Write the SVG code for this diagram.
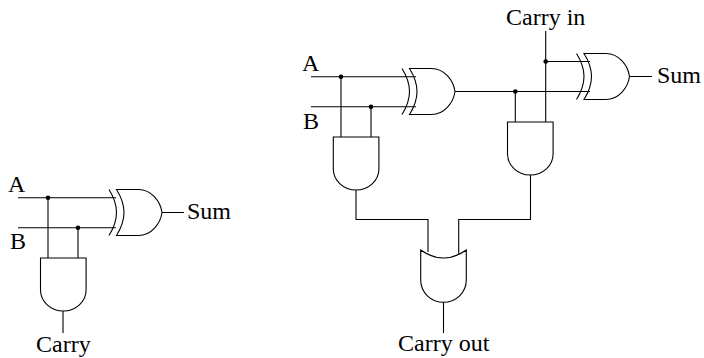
<svg xmlns="http://www.w3.org/2000/svg" width="704" height="358" viewBox="0 0 704 358">
<style>
.w{fill:none;stroke:#000;stroke-width:1.1}
.j{fill:#000;stroke:none}
text{font-family:"Liberation Serif","Times New Roman",serif;font-size:24px;fill:#000}
</style>
<defs>
<g id="xor" class="w"><path d="M0 0H22C35 0 44 12 45.500 23C44 34 35 46 22 46H0C5 38 7.500 31 7.500 23C7.500 15 5 8 0 0Z"/><path d="M-7.500 0C-2.500 8 0 15 0 23C0 31 -2.500 38 -7.500 46"/></g>
<path id="and" class="w" d="M0 0H45.600V32A22.800 21 0 0 1 0 32Z"/>
<path id="or" class="w" d="M0 0Q22.800 16 45.600 0V30A22.800 22.300 0 0 1 0 30Z"/>
</defs>
<g id="connectors" class="w">
<path d="M18 197.700H116M18 227.700H116M48 197.700V258M78 227.700V258M162 212.500H184M63 311V333"/>
<path d="M311 76.700H416M311 106.700H416M341 76.700V137M371 106.700V137M455 91.500H590M515.300 91.500V122M545.700 31V122M545.700 61.500H590M629.500 76.500H652M356 190V219.500H428V252M530.500 175V219.500H458.700V254M443.500 302.300V333"/>
<circle class="j" cx="48" cy="197.700" r="2.300"/><circle class="j" cx="78" cy="227.700" r="2.300"/>
<circle class="j" cx="341" cy="76.700" r="2.300"/><circle class="j" cx="371" cy="106.700" r="2.300"/>
<circle class="j" cx="515.300" cy="91.500" r="2.300"/><circle class="j" cx="545.700" cy="61.500" r="2.300"/>
</g>
<g id="xor-left"><use href="#xor" x="116.500" y="189.500"/></g>
<g id="and-left"><use href="#and" x="40.500" y="258"/></g>
<g id="xor-mid"><use href="#xor" x="409.500" y="68.500"/></g>
<g id="and-mid"><use href="#and" x="333.300" y="137"/></g>
<g id="xor-right"><use href="#xor" x="584" y="53.500"/></g>
<g id="and-right"><use href="#and" x="507.500" y="122"/></g>
<g id="or-out"><use href="#or" x="420.700" y="250"/></g>
<g id="labels">
<text x="8" y="192">A</text><text x="10" y="249">B</text><text x="187" y="219">Sum</text><text x="36" y="352">Carry</text>
<text x="302" y="71">A</text><text x="303" y="129">B</text><text x="506" y="25">Carry in</text><text x="657" y="83">Sum</text><text x="398" y="351">Carry out</text>
</g>
</svg>
